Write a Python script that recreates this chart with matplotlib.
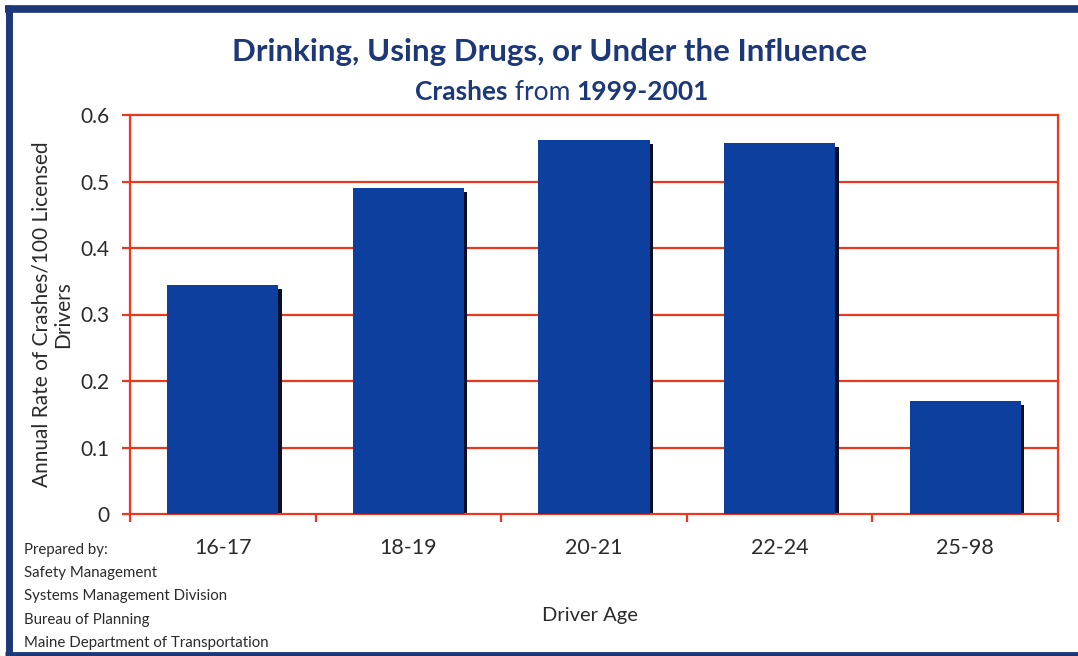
import numpy as np
import matplotlib
matplotlib.use('Agg')
import matplotlib.pyplot as plt
from matplotlib.lines import Line2D

# crash rates by driver age group, 1999-2001
ages = ['16-17', '18-19', '20-21', '22-24', '25-98']
rates = [0.345, 0.49, 0.562, 0.558, 0.17]
yticks = [0, 0.1, 0.2, 0.3, 0.4, 0.5, 0.6]
ytick_labels = ['0', '0.1', '0.2', '0.3', '0.4', '0.5', '0.6']
footer = ['Prepared by:', 'Safety Management', 'Systems Management Division',
          'Bureau of Planning', 'Maine Department of Transportation']

navy = '#1c3878'
red = '#e8381f'
bar_blue = '#0d409e'
txt = '#2b2b2b'
plt.rcParams['font.family'] = ['Lato', 'DejaVu Sans']

W, H = 1078, 656
fig = plt.figure(figsize=(W / 100, H / 100), dpi=100)
ax = fig.add_axes([130 / W, 1 - 514 / H, 928 / W, 399 / H])

x = np.arange(len(ages))
vals = np.array(rates)
# dark drop shadow on the right edge of each bar
ax.bar(x + 0.018, vals - 0.006, width=0.6, color='#0a0f25', zorder=2)
ax.bar(x, vals, width=0.6, color=bar_blue, zorder=3)

ax.set_xlim(-0.5, len(ages) - 0.5)
ax.set_ylim(0, 0.6)

# grid lines in red
for v in yticks[1:-1]:
    ax.axhline(v, color=red, lw=1.6, zorder=1)
for s in ax.spines.values():
    s.set_color(red)
    s.set_linewidth(1.6)

ax.set_yticks(yticks)
ax.set_yticklabels(ytick_labels)
ax.tick_params(axis='y', colors=red, length=6, width=1.6, pad=9,
               labelcolor=txt, labelsize=15)

# tick marks between groups, labels under the group centres
ax.set_xticks(np.arange(len(ages) + 1) - 0.5)
ax.set_xticklabels([])
ax.tick_params(axis='x', which='major', colors=red, length=6, width=1.6,
               direction='out')
ax.set_xticks(x, minor=True)
ax.set_xticklabels(ages, minor=True)
ax.tick_params(axis='x', which='minor', length=0, pad=17, labelcolor=txt,
               labelsize=15.5)

ax.set_ylabel('Annual Rate of Crashes/100 Licensed\nDrivers', fontsize=15,
              color=txt, labelpad=5, linespacing=1.1)
ax.set_xlabel('Driver Age', fontsize=14.5, color=txt)
ax.xaxis.set_label_coords((590 - 130) / 928, -(607 - 514) / 399)

fig.text(550 / W, 1 - 52 / H, 'Drinking, Using Drugs, or Under the Influence',
         ha='center', va='center', fontsize=22.5, fontweight='bold', color=navy)

# subtitle with mixed weights
parts = [('Crashes', 'bold'), (' from ', 'normal'), ('1999-2001', 'bold')]
pieces = [fig.text(0, 1 - 92 / H, p, fontsize=19, fontweight=w, color=navy,
                   va='center') for p, w in parts]
fig.canvas.draw()
r = fig.canvas.get_renderer()
widths = [t.get_window_extent(r).width for t in pieces]
start = 562 - sum(widths) / 2
for t, w in zip(pieces, widths):
    t.set_x(start / W)
    start += w

for i, line in enumerate(footer):
    fig.text(24 / W, 1 - (550 + i * 23.2) / H, line, fontsize=10.8, color=txt,
             va='center', ha='left')

# outer frame
frame = dict(color=navy, transform=fig.transFigure, solid_capstyle='butt')
fig.add_artist(Line2D([5 / W, 1], [1 - 9 / H] * 2, lw=5.5, **frame))
fig.add_artist(Line2D([8.5 / W] * 2, [0, 1 - 5 / H], lw=5, **frame))
fig.add_artist(Line2D([5 / W, 1], [2.5 / H] * 2, lw=3.5, **frame))

fig.savefig('out.png', dpi=100)
